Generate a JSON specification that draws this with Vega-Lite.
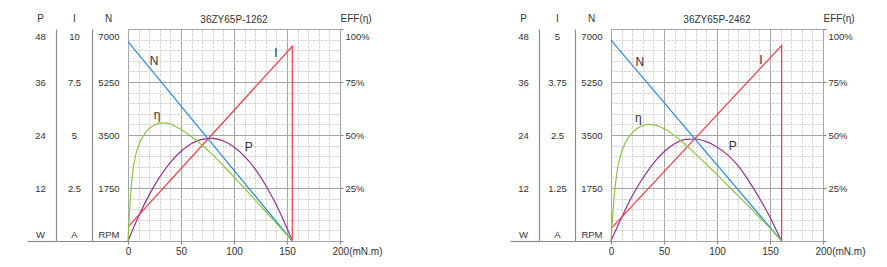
{
  "$schema": "https://vega.github.io/schema/vega-lite/v6.json",
  "padding": {"left": 25, "top": 12, "right": 5, "bottom": 5},
  "bounds": "flush",
  "spacing": 271,
  "config": {
    "font": "Liberation Sans",
    "view": {"stroke": "#a0a0a0", "strokeWidth": 1},
    "axis": {"labelFont": "Liberation Sans", "titleFont": "Liberation Sans", "labelColor": "#333", "titleColor": "#333", "labelFontSize": 9.5, "titleFontSize": 10, "titleFontWeight": "normal", "domainColor": "#8c8c8c", "tickColor": "#8c8c8c", "tickWidth": 1.2},
    "title": {"font": "Liberation Sans", "fontSize": 10, "fontWeight": "normal", "color": "#333", "anchor": "middle", "offset": -12}
  },
  "datasets": {
    "m1": [
      {"s": "N", "k": 0, "T": 0, "v": 6580},
      {"s": "N", "k": 1, "T": 155, "v": 0},
      {"s": "N", "T": 24.5, "v": 5943, "lab": "N"},
      {"s": "I", "k": 0, "T": 0, "v": 0.67},
      {"s": "I", "k": 1, "T": 155, "v": 9.18},
      {"s": "I", "k": 2, "T": 155, "v": 0},
      {"s": "I", "T": 139.6, "v": 8.88, "lab": "I"},
      {"s": "P", "k": 0, "T": 0, "v": 0},
      {"s": "P", "k": 1, "T": 10, "v": 5.61},
      {"s": "P", "k": 2, "T": 20, "v": 10.45},
      {"s": "P", "k": 3, "T": 30, "v": 14.52},
      {"s": "P", "k": 4, "T": 40, "v": 17.81},
      {"s": "P", "k": 5, "T": 50, "v": 20.32},
      {"s": "P", "k": 6, "T": 60, "v": 22.06},
      {"s": "P", "k": 7, "T": 70, "v": 23.03},
      {"s": "P", "k": 8, "T": 80, "v": 23.23},
      {"s": "P", "k": 9, "T": 90, "v": 22.64},
      {"s": "P", "k": 10, "T": 100, "v": 21.29},
      {"s": "P", "k": 11, "T": 110, "v": 19.16},
      {"s": "P", "k": 12, "T": 120, "v": 16.26},
      {"s": "P", "k": 13, "T": 130, "v": 12.58},
      {"s": "P", "k": 14, "T": 140, "v": 8.13},
      {"s": "P", "k": 15, "T": 150, "v": 2.9},
      {"s": "P", "k": 16, "T": 155, "v": 0},
      {"s": "P", "T": 113.9, "v": 21.2, "lab": "P"},
      {"s": "E", "k": 0, "T": 0, "v": 0},
      {"s": "E", "k": 1, "T": 1, "v": 10},
      {"s": "E", "k": 2, "T": 2, "v": 18},
      {"s": "E", "k": 3, "T": 3, "v": 25},
      {"s": "E", "k": 4, "T": 4, "v": 30.5},
      {"s": "E", "k": 5, "T": 5, "v": 34.5},
      {"s": "E", "k": 6, "T": 6, "v": 37.5},
      {"s": "E", "k": 7, "T": 8, "v": 42},
      {"s": "E", "k": 8, "T": 10, "v": 45},
      {"s": "E", "k": 9, "T": 13, "v": 48.3},
      {"s": "E", "k": 10, "T": 16, "v": 50.8},
      {"s": "E", "k": 11, "T": 20, "v": 53},
      {"s": "E", "k": 12, "T": 25, "v": 54.7},
      {"s": "E", "k": 13, "T": 30, "v": 55.6},
      {"s": "E", "k": 14, "T": 35, "v": 55.7},
      {"s": "E", "k": 15, "T": 40, "v": 55.2},
      {"s": "E", "k": 16, "T": 45, "v": 54},
      {"s": "E", "k": 17, "T": 50, "v": 52.6},
      {"s": "E", "k": 18, "T": 60, "v": 49.2},
      {"s": "E", "k": 19, "T": 70, "v": 45.2},
      {"s": "E", "k": 20, "T": 80, "v": 40.6},
      {"s": "E", "k": 21, "T": 90, "v": 35.5},
      {"s": "E", "k": 22, "T": 100, "v": 30.2},
      {"s": "E", "k": 23, "T": 110, "v": 24.8},
      {"s": "E", "k": 24, "T": 120, "v": 19.3},
      {"s": "E", "k": 25, "T": 130, "v": 13.8},
      {"s": "E", "k": 26, "T": 140, "v": 8.3},
      {"s": "E", "k": 27, "T": 150, "v": 2.8},
      {"s": "E", "k": 28, "T": 155, "v": 0},
      {"s": "E", "T": 27.4, "v": 59.4, "lab": "η"}
    ],
    "m2": [
      {"s": "N", "k": 0, "T": 0, "v": 6630},
      {"s": "N", "k": 1, "T": 161, "v": 0},
      {"s": "N", "T": 27.2, "v": 5915, "lab": "N"},
      {"s": "I", "k": 0, "T": 0, "v": 0.29},
      {"s": "I", "k": 1, "T": 161, "v": 4.61},
      {"s": "I", "k": 2, "T": 161, "v": 0},
      {"s": "I", "T": 141.4, "v": 4.27, "lab": "I"},
      {"s": "P", "k": 0, "T": 0, "v": 0},
      {"s": "P", "k": 1, "T": 10, "v": 5.3},
      {"s": "P", "k": 2, "T": 20, "v": 10.2},
      {"s": "P", "k": 3, "T": 30, "v": 14.2},
      {"s": "P", "k": 4, "T": 40, "v": 17.6},
      {"s": "P", "k": 5, "T": 50, "v": 20.2},
      {"s": "P", "k": 6, "T": 60, "v": 22},
      {"s": "P", "k": 7, "T": 70, "v": 23},
      {"s": "P", "k": 8, "T": 80, "v": 23.1},
      {"s": "P", "k": 9, "T": 90, "v": 22.5},
      {"s": "P", "k": 10, "T": 100, "v": 21.3},
      {"s": "P", "k": 11, "T": 110, "v": 19.5},
      {"s": "P", "k": 12, "T": 120, "v": 17.0},
      {"s": "P", "k": 13, "T": 130, "v": 13.6},
      {"s": "P", "k": 14, "T": 140, "v": 9.7},
      {"s": "P", "k": 15, "T": 150, "v": 5.4},
      {"s": "P", "k": 16, "T": 155, "v": 2.9},
      {"s": "P", "k": 17, "T": 161, "v": 0},
      {"s": "P", "T": 114.8, "v": 21.6, "lab": "P"},
      {"s": "E", "k": 0, "T": 0, "v": 0},
      {"s": "E", "k": 1, "T": 1, "v": 8},
      {"s": "E", "k": 2, "T": 2, "v": 15},
      {"s": "E", "k": 3, "T": 3, "v": 21},
      {"s": "E", "k": 4, "T": 4, "v": 26},
      {"s": "E", "k": 5, "T": 5, "v": 30},
      {"s": "E", "k": 6, "T": 6, "v": 33.5},
      {"s": "E", "k": 7, "T": 8, "v": 38.5},
      {"s": "E", "k": 8, "T": 10, "v": 42},
      {"s": "E", "k": 9, "T": 13, "v": 45.8},
      {"s": "E", "k": 10, "T": 16, "v": 48.5},
      {"s": "E", "k": 11, "T": 20, "v": 51},
      {"s": "E", "k": 12, "T": 25, "v": 53.2},
      {"s": "E", "k": 13, "T": 30, "v": 54.5},
      {"s": "E", "k": 14, "T": 35, "v": 55},
      {"s": "E", "k": 15, "T": 40, "v": 54.8},
      {"s": "E", "k": 16, "T": 45, "v": 54.1},
      {"s": "E", "k": 17, "T": 50, "v": 53},
      {"s": "E", "k": 18, "T": 55, "v": 51.5},
      {"s": "E", "k": 19, "T": 60, "v": 49.7},
      {"s": "E", "k": 20, "T": 70, "v": 45.5},
      {"s": "E", "k": 21, "T": 80, "v": 41},
      {"s": "E", "k": 22, "T": 90, "v": 36.2},
      {"s": "E", "k": 23, "T": 100, "v": 31.3},
      {"s": "E", "k": 24, "T": 110, "v": 26.3},
      {"s": "E", "k": 25, "T": 120, "v": 21.3},
      {"s": "E", "k": 26, "T": 130, "v": 16.3},
      {"s": "E", "k": 27, "T": 140, "v": 11.2},
      {"s": "E", "k": 28, "T": 150, "v": 6.1},
      {"s": "E", "k": 29, "T": 161, "v": 0},
      {"s": "E", "T": 25.7, "v": 58.2, "lab": "η"}
    ]
  },
  "hconcat": [
    {
      "title": "36ZY65P-1262",
      "width": 212,
      "height": 212,
      "data": {"name": "m1"},
      "encoding": {
        "x": {"field": "T", "type": "quantitative", "scale": {"domain": [0, 200], "nice": false},
          "axis": {"title": null, "domain": false, "values": [0,10,20,30,40,50,60,70,80,90,100,110,120,130,140,150,160,170,180,190,200],
            "grid": true,
            "gridColor": {"condition": {"test": "datum.value % 50 == 0", "value": "#a6a6a6"}, "value": "#d4d4d4"},
            "gridDash": {"condition": {"test": "datum.value % 50 == 0", "value": []}, "value": [3, 1]},
            "tickSize": {"condition": {"test": "datum.value % 50 == 0", "value": 3}, "value": 0},
            "labelExpr": "datum.value % 50 == 0 ? (datum.value == 200 ? '200(mN.m)' : datum.label) : ''",
            "labelAlign": {"condition": {"test": "datum.value == 200", "value": "left"}, "value": "center"},
            "labelOffset": {"condition": {"test": "datum.value == 200", "value": -8}, "value": 0},
            "labelPadding": {"condition": {"test": "datum.value % 50 == 0", "value": 2}, "value": 5},
            "labelFontSize": 10, "labelFlush": false, "labelOverlap": false, "labelBound": false}}
      },
      "layer": [
        {
          "transform": [{"filter": "datum.s == 'P'"}],
          "encoding": {"y": {"field": "v", "type": "quantitative", "scale": {"domain": [0, 48], "nice": false},
            "axis": {"orient": "left", "offset": 72, "values": [0, 12, 24, 36, 48], "grid": false, "domain": true, "domainWidth": 1.2,
              "labelExpr": "datum.value == 0 ? 'W' : '' + datum.value", "labelAlign": "center",
              "labelPadding": {"condition": {"test": "datum.value == 0", "value": -13}, "value": 16},
              "labelBaseline": {"condition": [{"test": "datum.value == 0", "value": "bottom"}, {"test": "datum.value == 48", "value": "top"}], "value": "middle"},
              "labelOffset": {"condition": [{"test": "datum.value == 0", "value": -2}, {"test": "datum.value == 48", "value": 2}], "value": 0},
              "ticks": true, "tickSize": {"condition": {"test": "datum.value == 0", "value": 29}, "value": 0},
              "title": "P", "titleAngle": 0, "titleX": -16, "titleY": -11, "titleAlign": "center", "titleBaseline": "middle"}}},
          "layer": [
            {"transform": [{"filter": "!datum.lab"}], "mark": {"type": "line", "color": "#94308f", "strokeWidth": 1.2, "interpolate": "monotone"}, "encoding": {"order": {"field": "k", "type": "quantitative"}}},
            {"transform": [{"filter": "datum.lab"}], "mark": {"type": "text", "color": "#333", "fontSize": 12}, "encoding": {"text": {"field": "lab"}}}
          ]
        },
        {
          "transform": [{"filter": "datum.s == 'I'"}],
          "encoding": {"y": {"field": "v", "type": "quantitative", "scale": {"domain": [0, 10], "nice": false},
            "axis": {"orient": "left", "offset": 36, "values": [0, 2.5, 5, 7.5, 10], "grid": false, "domain": true, "domainWidth": 1.2,
              "labelExpr": "datum.value == 0 ? 'A' : '' + datum.value", "labelAlign": "center",
              "labelPadding": {"condition": {"test": "datum.value == 0", "value": -18}, "value": 18},
              "labelBaseline": {"condition": [{"test": "datum.value == 0", "value": "bottom"}, {"test": "datum.value == 10", "value": "top"}], "value": "middle"},
              "labelOffset": {"condition": [{"test": "datum.value == 0", "value": -2}, {"test": "datum.value == 10", "value": 2}], "value": 0},
              "ticks": true, "tickSize": {"condition": {"test": "datum.value == 0", "value": 36}, "value": 0},
              "title": "I", "titleAngle": 0, "titleX": -18, "titleY": -11, "titleAlign": "center", "titleBaseline": "middle"}}},
          "layer": [
            {"transform": [{"filter": "!datum.lab"}], "mark": {"type": "line", "color": "#ee3b46", "strokeWidth": 1.2}, "encoding": {"order": {"field": "k", "type": "quantitative"}}},
            {"transform": [{"filter": "datum.lab"}], "mark": {"type": "text", "color": "#333", "fontSize": 12}, "encoding": {"text": {"field": "lab"}}}
          ]
        },
        {
          "transform": [{"filter": "datum.s == 'N'"}],
          "encoding": {"y": {"field": "v", "type": "quantitative", "scale": {"domain": [0, 7000], "nice": false},
            "axis": {"orient": "left", "offset": 0, "values": [0,350,700,1050,1400,1750,2100,2450,2800,3150,3500,3850,4200,4550,4900,5250,5600,5950,6300,6650,7000],
              "grid": true,
              "gridColor": {"condition": {"test": "datum.value % 1750 == 0", "value": "#a6a6a6"}, "value": "#d4d4d4"},
              "gridDash": {"condition": {"test": "datum.value % 1750 == 0", "value": []}, "value": [3, 1]},
              "domain": false,
              "labelExpr": "datum.value == 0 ? 'RPM' : (datum.value % 1750 == 0 ? format(datum.value, 'd') : '')", "labelAlign": "right",
              "labelPadding": {"condition": {"test": "datum.value == 0", "value": -27}, "value": 9},
              "labelBaseline": {"condition": [{"test": "datum.value == 0", "value": "bottom"}, {"test": "datum.value == 7000", "value": "top"}], "value": "middle"},
              "labelOffset": {"condition": [{"test": "datum.value == 0", "value": -2}, {"test": "datum.value == 7000", "value": 2}], "value": 0},
              "ticks": true, "tickSize": {"condition": {"test": "datum.value == 0", "value": 36}, "value": 0},
              "title": "N", "titleAngle": 0, "titleX": -20, "titleY": -11, "titleAlign": "center", "titleBaseline": "middle"}}},
          "layer": [
            {"transform": [{"filter": "!datum.lab"}], "mark": {"type": "line", "color": "#2b8fd6", "strokeWidth": 1.2}, "encoding": {"order": {"field": "k", "type": "quantitative"}}},
            {"transform": [{"filter": "datum.lab"}], "mark": {"type": "text", "color": "#333", "fontSize": 12}, "encoding": {"text": {"field": "lab"}}}
          ]
        },
        {
          "transform": [{"filter": "datum.s == 'E'"}],
          "encoding": {"y": {"field": "v", "type": "quantitative", "scale": {"domain": [0, 100], "nice": false},
            "axis": {"orient": "right", "values": [0, 25, 50, 75, 100], "grid": false, "domain": false,
              "labelExpr": "datum.value == 0 ? '' : datum.value + '%'", "labelAlign": "left", "labelPadding": 2,
              "labelBaseline": {"condition": {"test": "datum.value == 100", "value": "top"}, "value": "middle"},
              "labelOffset": {"condition": {"test": "datum.value == 100", "value": 2}, "value": 0},
              "ticks": true, "tickSize": 3,
              "title": "EFF(η)", "titleAngle": 0, "titleX": 0, "titleY": -11, "titleAlign": "left", "titleBaseline": "middle"}}},
          "layer": [
            {"transform": [{"filter": "!datum.lab"}], "mark": {"type": "line", "color": "#8dc63f", "strokeWidth": 1.2, "interpolate": "monotone"}, "encoding": {"order": {"field": "k", "type": "quantitative"}}},
            {"transform": [{"filter": "datum.lab"}], "mark": {"type": "text", "color": "#333", "fontSize": 12}, "encoding": {"text": {"field": "lab"}}}
          ]
        }
      ],
      "resolve": {"scale": {"y": "independent"}}
    },
    {
      "title": "36ZY65P-2462",
      "width": 212,
      "height": 212,
      "data": {"name": "m2"},
      "encoding": {
        "x": {"field": "T", "type": "quantitative", "scale": {"domain": [0, 200], "nice": false},
          "axis": {"title": null, "domain": false, "values": [0,10,20,30,40,50,60,70,80,90,100,110,120,130,140,150,160,170,180,190,200],
            "grid": true,
            "gridColor": {"condition": {"test": "datum.value % 50 == 0", "value": "#a6a6a6"}, "value": "#d4d4d4"},
            "gridDash": {"condition": {"test": "datum.value % 50 == 0", "value": []}, "value": [3, 1]},
            "tickSize": {"condition": {"test": "datum.value % 50 == 0", "value": 3}, "value": 0},
            "labelExpr": "datum.value % 50 == 0 ? (datum.value == 200 ? '200(mN.m)' : datum.label) : ''",
            "labelAlign": {"condition": {"test": "datum.value == 200", "value": "left"}, "value": "center"},
            "labelOffset": {"condition": {"test": "datum.value == 200", "value": -8}, "value": 0},
            "labelPadding": {"condition": {"test": "datum.value % 50 == 0", "value": 2}, "value": 5},
            "labelFontSize": 10, "labelFlush": false, "labelOverlap": false, "labelBound": false}}
      },
      "layer": [
        {
          "transform": [{"filter": "datum.s == 'P'"}],
          "encoding": {"y": {"field": "v", "type": "quantitative", "scale": {"domain": [0, 48], "nice": false},
            "axis": {"orient": "left", "offset": 72, "values": [0, 12, 24, 36, 48], "grid": false, "domain": true, "domainWidth": 1.2,
              "labelExpr": "datum.value == 0 ? 'W' : '' + datum.value", "labelAlign": "center",
              "labelPadding": {"condition": {"test": "datum.value == 0", "value": -13}, "value": 16},
              "labelBaseline": {"condition": [{"test": "datum.value == 0", "value": "bottom"}, {"test": "datum.value == 48", "value": "top"}], "value": "middle"},
              "labelOffset": {"condition": [{"test": "datum.value == 0", "value": -2}, {"test": "datum.value == 48", "value": 2}], "value": 0},
              "ticks": true, "tickSize": {"condition": {"test": "datum.value == 0", "value": 29}, "value": 0},
              "title": "P", "titleAngle": 0, "titleX": -16, "titleY": -11, "titleAlign": "center", "titleBaseline": "middle"}}},
          "layer": [
            {"transform": [{"filter": "!datum.lab"}], "mark": {"type": "line", "color": "#94308f", "strokeWidth": 1.2, "interpolate": "monotone"}, "encoding": {"order": {"field": "k", "type": "quantitative"}}},
            {"transform": [{"filter": "datum.lab"}], "mark": {"type": "text", "color": "#333", "fontSize": 12}, "encoding": {"text": {"field": "lab"}}}
          ]
        },
        {
          "transform": [{"filter": "datum.s == 'I'"}],
          "encoding": {"y": {"field": "v", "type": "quantitative", "scale": {"domain": [0, 5], "nice": false},
            "axis": {"orient": "left", "offset": 36, "values": [0, 1.25, 2.5, 3.75, 5], "grid": false, "domain": true, "domainWidth": 1.2,
              "labelExpr": "datum.value == 0 ? 'A' : '' + datum.value", "labelAlign": "center",
              "labelPadding": {"condition": {"test": "datum.value == 0", "value": -18}, "value": 18},
              "labelBaseline": {"condition": [{"test": "datum.value == 0", "value": "bottom"}, {"test": "datum.value == 5", "value": "top"}], "value": "middle"},
              "labelOffset": {"condition": [{"test": "datum.value == 0", "value": -2}, {"test": "datum.value == 5", "value": 2}], "value": 0},
              "ticks": true, "tickSize": {"condition": {"test": "datum.value == 0", "value": 36}, "value": 0},
              "title": "I", "titleAngle": 0, "titleX": -18, "titleY": -11, "titleAlign": "center", "titleBaseline": "middle"}}},
          "layer": [
            {"transform": [{"filter": "!datum.lab"}], "mark": {"type": "line", "color": "#ee3b46", "strokeWidth": 1.2}, "encoding": {"order": {"field": "k", "type": "quantitative"}}},
            {"transform": [{"filter": "datum.lab"}], "mark": {"type": "text", "color": "#333", "fontSize": 12}, "encoding": {"text": {"field": "lab"}}}
          ]
        },
        {
          "transform": [{"filter": "datum.s == 'N'"}],
          "encoding": {"y": {"field": "v", "type": "quantitative", "scale": {"domain": [0, 7000], "nice": false},
            "axis": {"orient": "left", "offset": 0, "values": [0,350,700,1050,1400,1750,2100,2450,2800,3150,3500,3850,4200,4550,4900,5250,5600,5950,6300,6650,7000],
              "grid": true,
              "gridColor": {"condition": {"test": "datum.value % 1750 == 0", "value": "#a6a6a6"}, "value": "#d4d4d4"},
              "gridDash": {"condition": {"test": "datum.value % 1750 == 0", "value": []}, "value": [3, 1]},
              "domain": false,
              "labelExpr": "datum.value == 0 ? 'RPM' : (datum.value % 1750 == 0 ? format(datum.value, 'd') : '')", "labelAlign": "right",
              "labelPadding": {"condition": {"test": "datum.value == 0", "value": -27}, "value": 9},
              "labelBaseline": {"condition": [{"test": "datum.value == 0", "value": "bottom"}, {"test": "datum.value == 7000", "value": "top"}], "value": "middle"},
              "labelOffset": {"condition": [{"test": "datum.value == 0", "value": -2}, {"test": "datum.value == 7000", "value": 2}], "value": 0},
              "ticks": true, "tickSize": {"condition": {"test": "datum.value == 0", "value": 36}, "value": 0},
              "title": "N", "titleAngle": 0, "titleX": -20, "titleY": -11, "titleAlign": "center", "titleBaseline": "middle"}}},
          "layer": [
            {"transform": [{"filter": "!datum.lab"}], "mark": {"type": "line", "color": "#2b8fd6", "strokeWidth": 1.2}, "encoding": {"order": {"field": "k", "type": "quantitative"}}},
            {"transform": [{"filter": "datum.lab"}], "mark": {"type": "text", "color": "#333", "fontSize": 12}, "encoding": {"text": {"field": "lab"}}}
          ]
        },
        {
          "transform": [{"filter": "datum.s == 'E'"}],
          "encoding": {"y": {"field": "v", "type": "quantitative", "scale": {"domain": [0, 100], "nice": false},
            "axis": {"orient": "right", "values": [0, 25, 50, 75, 100], "grid": false, "domain": false,
              "labelExpr": "datum.value == 0 ? '' : datum.value + '%'", "labelAlign": "left", "labelPadding": 2,
              "labelBaseline": {"condition": {"test": "datum.value == 100", "value": "top"}, "value": "middle"},
              "labelOffset": {"condition": {"test": "datum.value == 100", "value": 2}, "value": 0},
              "ticks": true, "tickSize": 3,
              "title": "EFF(η)", "titleAngle": 0, "titleX": 0, "titleY": -11, "titleAlign": "left", "titleBaseline": "middle"}}},
          "layer": [
            {"transform": [{"filter": "!datum.lab"}], "mark": {"type": "line", "color": "#8dc63f", "strokeWidth": 1.2, "interpolate": "monotone"}, "encoding": {"order": {"field": "k", "type": "quantitative"}}},
            {"transform": [{"filter": "datum.lab"}], "mark": {"type": "text", "color": "#333", "fontSize": 12}, "encoding": {"text": {"field": "lab"}}}
          ]
        }
      ],
      "resolve": {"scale": {"y": "independent"}}
    }
  ]
}
